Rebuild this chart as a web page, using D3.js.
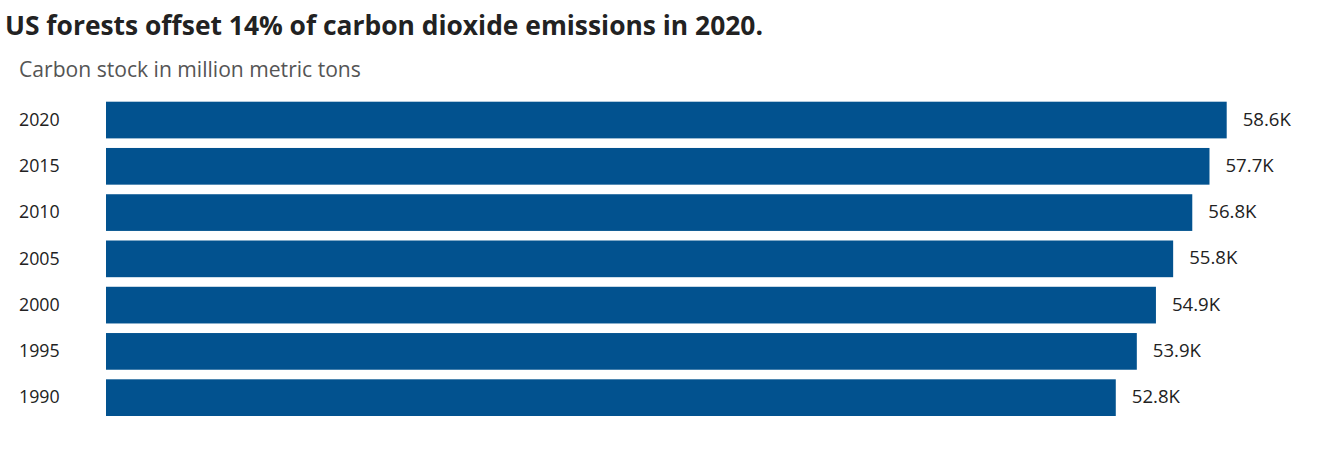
<!DOCTYPE html>
<html><head><meta charset="utf-8">
<script src="https://cdn.jsdelivr.net/npm/d3@7"></script>
<style>
html,body{margin:0;padding:0;background:#fff;}
svg text{font-family:"Open Sans","Noto Sans",sans-serif;}
</style></head>
<body><svg id="c" width="1319" height="468"></svg>
<script>
const title = "US forests offset 14% of carbon dioxide emissions in 2020.";
const subtitle = "Carbon stock in million metric tons";
const years = ["2020","2015","2010","2005","2000","1995","1990"];
const values = [58.6, 57.7, 56.8, 55.8, 54.9, 53.9, 52.8];
const valueLabels = ["58.6K","57.7K","56.8K","55.8K","54.9K","53.9K","52.8K"];

const svg = d3.select("#c");
const W = 1319, H = 468;
const margin = {left: 106, top: 101.7, right: 92.3, bottom: 52};

svg.append("text").attr("x", 5).attr("y", 35)
  .attr("font-size", 26.4).attr("font-weight", 700).attr("fill", "#222")
  .text(title);
svg.append("text").attr("x", 19).attr("y", 77)
  .attr("font-size", 21.1).attr("fill", "#555")
  .text(subtitle);

const x = d3.scaleLinear().domain([0, 58.6]).range([margin.left, W - margin.right]);
const y = d3.scaleBand().domain(years).range([margin.top, H - margin.bottom]).paddingInner(0.207).paddingOuter(0);

svg.append("g").selectAll("rect").data(years).join("rect")
  .attr("x", x(0)).attr("y", d => y(d))
  .attr("width", (d,i) => x(values[i]) - x(0))
  .attr("height", y.bandwidth())
  .attr("fill", "#02528f");

svg.append("g").selectAll("text").data(years).join("text")
  .attr("x", 19).attr("y", d => y(d) + y.bandwidth()/2)
  .attr("dy", "0.32em").attr("font-size", 17.8).attr("fill", "#222")
  .text(d => d);

svg.append("g").selectAll("text").data(years).join("text")
  .attr("x", (d,i) => x(values[i]) + 16).attr("y", d => y(d) + y.bandwidth()/2)
  .attr("dy", "0.3em").attr("font-size", 18.6).attr("fill", "#222")
  .text((d,i) => valueLabels[i]);
</script></body></html>
